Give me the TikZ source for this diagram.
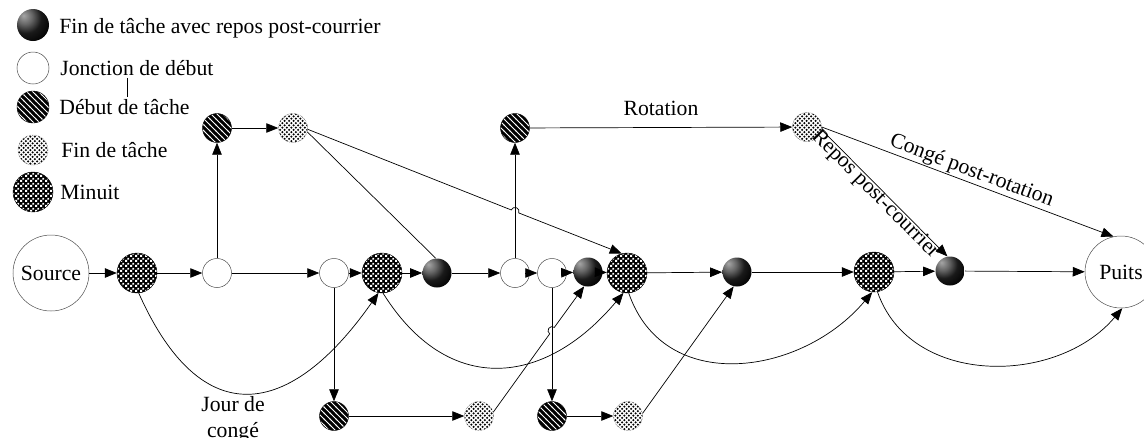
\documentclass[tikz,border=0pt]{standalone}
\usepackage{fontspec}
\setmainfont{Liberation Serif}
\usetikzlibrary{arrows.meta,patterns}

\pgfdeclarepatternformonly{mchecks}{\pgfqpoint{0pt}{0pt}}{\pgfqpoint{5pt}{5pt}}{\pgfqpoint{5pt}{5pt}}{%
  \pgfpathrectangle{\pgfqpoint{0.25pt}{0.25pt}}{\pgfqpoint{2.1pt}{2.1pt}}%
  \pgfpathrectangle{\pgfqpoint{2.75pt}{2.75pt}}{\pgfqpoint{2.1pt}{2.1pt}}%
  \pgfusepath{fill}}
\pgfdeclarepatternformonly{fdots}{\pgfqpoint{-1pt}{-1pt}}{\pgfqpoint{5.5pt}{5.5pt}}{\pgfqpoint{4.5pt}{4.5pt}}{%
  \pgfpathcircle{\pgfqpoint{1.125pt}{1.125pt}}{1.2pt}%
  \pgfpathcircle{\pgfqpoint{3.375pt}{3.375pt}}{1.2pt}%
  \pgfusepath{fill}}
\pgfdeclarepatternformonly{dstripes}{\pgfqpoint{-1pt}{-1pt}}{\pgfqpoint{7pt}{7pt}}{\pgfqpoint{6pt}{6pt}}{%
  \pgfsetlinewidth{1pt}%
  \pgfpathmoveto{\pgfqpoint{-1pt}{7pt}}\pgfpathlineto{\pgfqpoint{7pt}{-1pt}}%
  \pgfusepath{stroke}}
\pgfdeclareradialshading{reposball}{\pgfpoint{-15bp}{15bp}}{color(0bp)=(black!35); color(12bp)=(black!60); color(24bp)=(black!90); color(40bp)=(black); color(100bp)=(black)}

\begin{document}
\begin{tikzpicture}[x=1pt,y=1pt, line width=0.7pt,
  txt/.style={font=\fontsize{21.7}{26}\selectfont, inner sep=0pt},
  arr/.style={-{Triangle[length=12pt,width=9.5pt]}},
  small/.style={circle, inner sep=0pt, minimum size=29pt},
  jonc/.style={small, draw=black!70, line width=0.5pt, fill=white},
  debut/.style={small, draw=black, line width=0.4pt, preaction={fill=black}, pattern=dstripes, pattern color=white},
  fin/.style={small, draw=black!60, densely dotted, line width=0.5pt, preaction={fill=white}, pattern=fdots, pattern color=black},
  repos/.style={small, shading=reposball},
  minuit/.style={circle, inner sep=0pt, minimum size=40pt, draw=black, line width=0.4pt, preaction={fill=black}, pattern=mchecks, pattern color=white},
  big/.style={circle, draw=black!70, line width=0.5pt, inner sep=0pt, font=\fontsize{21.7}{26}\selectfont}
]
\useasboundingbox (0,0) rectangle (1144,-437);

% Legend
\node[repos, minimum size=32pt] (L1) at (33,-25) {};
\node[txt, anchor=base west] (L1t) at (59,-33) {Fin de tâche avec repos post-courrier};
\node[jonc, minimum size=32pt] (L2) at (33,-68) {};
\node[txt, anchor=base west] (L2t) at (60,-75.5) {Jonction de début};
\node[debut, minimum size=32pt] (L3) at (33,-107) {};
\node[txt, anchor=base west] (L3t) at (59,-114) {Début de tâche};
\node[fin, minimum size=30pt] (L4) at (33,-150) {};
\node[txt, anchor=base west] (L4t) at (61,-157.5) {Fin de tâche};
\node[minuit] (L5) at (33,-192) {};
\node[txt, anchor=base west] (L5t) at (60,-199) {Minuit};
\draw[line width=0.5pt] (127,-78) -- (127,-97);

% Main row
\node[big, minimum size=76pt] (S) at (51,-273) {Source};
\node[minuit] (M1) at (137,-273) {};
\node[jonc] (J1) at (217,-273) {};
\node[debut] (D1) at (217,-128) {};
\node[fin] (F1) at (293,-128) {};
\node[jonc] (J2) at (334,-273) {};
\node[minuit] (M2) at (382,-273) {};
\node[repos] (R1) at (437,-273) {};
\node[jonc] (J3) at (515,-273) {};
\node[debut] (D2) at (515,-128) {};
\node[jonc] (J4) at (552,-273) {};
\node[repos] (R2) at (588,-272) {};
\node[minuit] (M3) at (627,-273) {};
\node[repos] (R3) at (737,-272) {};
\node[minuit] (M4) at (874,-272) {};
\node[repos] (R4) at (950,-271) {};
\node[big, minimum size=72pt] (P) at (1121,-272) {Puits};
\node[fin] (F2) at (807,-127) {};
\node[debut] (D3) at (334,-416) {};
\node[fin] (F3) at (479,-416) {};
\node[debut] (D4) at (552,-416) {};
\node[fin] (F4) at (628,-416) {};

\node[txt, align=center, anchor=north] (jdc) at (233,-396) {Jour de\\congé};

% Straight connectors
\draw[arr] (S) -- (M1);
\draw[arr] (M1) -- (J1);
\draw[arr] (J1) -- (D1);
\draw[arr] (D1) -- (F1);
\draw[arr] (J1) -- (J2);
\draw[arr] (J2) -- (M2);
\draw[arr] (M2) -- (R1);
\draw (F1.-15) -- (R1.95);
\draw[arr] (R1) -- (J3);
\draw[arr] (J3) -- (D2);
\draw[arr] (D2) -- node[txt, above=11pt] {Rotation} (F2);
\draw[arr] (J3) -- (J4);
\draw[arr] (J4) -- (R2);
\draw[arr] (R2) -- (M3);
\draw[arr] (M3) -- (R3);
\draw[arr] (R3) -- (M4);
\draw[arr] (M4) -- (R4);
\draw[arr] (R4) -- (P);
\draw[arr] (F2.-10) -- node[txt, sloped, pos=0.47, below=-2pt] {Repos post-courrier} (R4.100);
\draw[arr] (F2.0) -- node[txt, sloped, pos=0.5, above=1pt] {Congé post-rotation} (P.102);
\draw[arr] (J2) -- (D3);
\draw[arr] (D3) -- (F3);
\draw[arr] (J4) -- (D4);
\draw[arr] (D4) -- (F4);
\draw[arr] (F4.10) -- (R3.-103);

% Connectors with hops
\coordinate (h1) at (511.28,-209.97);
\draw[arr] (F1.-5) -- (h1) arc[start angle=158.41, end angle=-21.59, radius=4] -- (M3.105);
\coordinate (h2) at (549.66,-333.86);
\draw[arr] (F3.15) -- (h2) arc[start angle=234.14, end angle=54.14, radius=4] -- (R2.-105);

% Curved connectors
\draw[arr] (M1.-85) .. controls +(-66:154) and +(-125:154) .. (M2.-100);
\draw[arr] (M2.-87) .. controls +(-58:122.5) and +(-130:122.5) .. (M3.-100);
\draw[arr] (M3.-85) .. controls +(-71:109) and +(-130:109) .. (M4.-95);
\draw[arr] (M4.-80) .. controls +(-71:101) and +(-130:101) .. (P.-88);
\end{tikzpicture}
\end{document}
